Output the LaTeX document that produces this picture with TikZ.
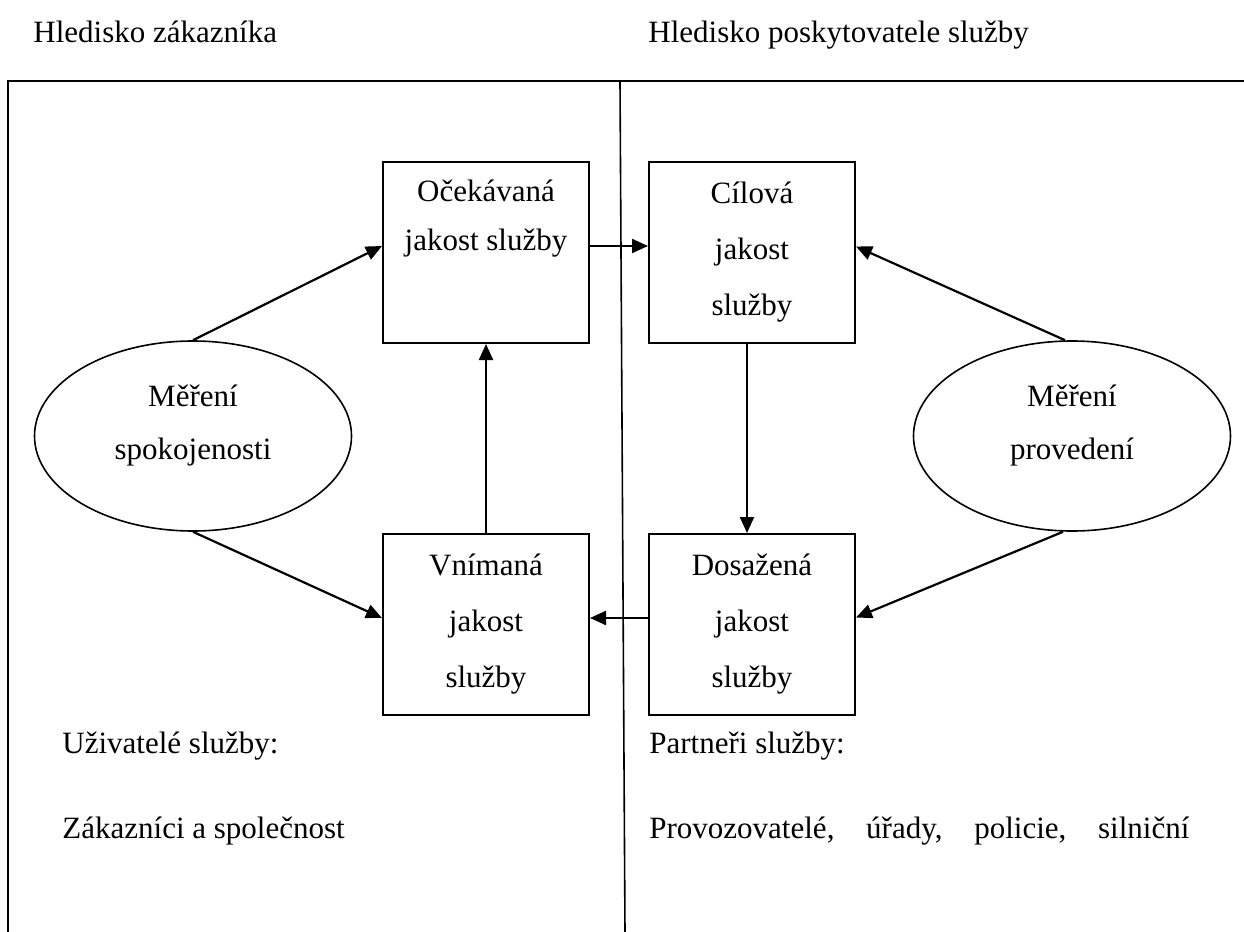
\documentclass[tikz,border=0pt]{standalone}
\usepackage{fontspec}
\setmainfont{Liberation Serif}
\usepackage{tikz}
\usetikzlibrary{arrows.meta,shapes.geometric}

\tikzset{
  kvalbox/.style={draw=black, line width=1pt, inner sep=0pt,
    minimum width=103pt, minimum height=90.5pt, align=center,
    font=\fontsize{15.5pt}{28pt}\selectfont},
  mereni/.style={ellipse, draw=black, line width=0.8pt, inner sep=0pt,
    minimum width=158.5pt, minimum height=95pt, align=center,
    text depth=14pt,
    font=\fontsize{15.5pt}{26.5pt}\selectfont},
  popis/.style={inner sep=0pt, anchor=base west,
    font=\fontsize{15.5pt}{19pt}\selectfont},
  sipka/.style={-{Triangle[length=8pt,width=7pt]}, line width=1.1pt},
}

\begin{document}
\begin{tikzpicture}[x=0.5pt, y=-0.5pt]
                \useasboundingbox (0,0) rectangle (1244,932);
                % frame and divider
                \draw [black, line width=1pt] (8,932) -- (8,81) -- (1244,81);
                \draw [black, line width=0.8pt] (620,81) -- (625,932);
                % headings
                \node [popis] (hzak) at (33,42) {Hledisko zákazníka};
                \node [popis] (hposk) at (648,42) {Hledisko poskytovatele služby};
                % quality boxes
                \node [kvalbox, text depth=37pt] (ocek) at (486,252.5) {Očekávaná\\[-3.5pt]jakost služby};
                \node [kvalbox] (cil) at (752,252.5) {Cílová\\jakost\\služby};
                \node [kvalbox] (vnim) at (486,624.5) {Vnímaná\\jakost\\služby};
                \node [kvalbox] (dos) at (752,624.5) {Dosažená\\jakost\\služby};
                % measurements
                \node [mereni] (spok) at (193,436) {Měření\\spokojenosti};
                \node [mereni] (prov) at (1072,436) {Měření\\provedení};
                % arrows
                \draw [sipka] (spok.north) -- ([yshift=3.25pt]ocek.west);
                \draw [sipka] (spok.south) -- ([yshift=3.25pt]vnim.west);
                \draw [sipka] (vnim.north) -- (ocek.south);
                \draw [sipka] ([yshift=3.25pt]ocek.east) -- ([yshift=3.25pt]cil.west);
                \draw [sipka] ([xshift=-2.5pt]cil.south) -- ([xshift=-2.5pt]dos.north);
                \draw [sipka] ([yshift=3.25pt]dos.west) -- ([yshift=3.25pt]vnim.east);
                \draw [sipka] ([xshift=-3.5pt]prov.north) -- ([yshift=3pt]cil.east);
                \draw [sipka] ([xshift=-4.5pt]prov.south) -- ([yshift=3.5pt]dos.east);
                % bottom texts
                \node [popis] (uziv) at (62,753) {Uživatelé služby:};
                \node [popis] (zakaz) at (62,838) {Zákazníci a společnost};
                \node [popis] (partn) at (649,753) {Partneři služby:};
                \node [popis, text width=270pt, align=left] (provoz) at (649,838)
                  {Provozovatelé,\hfill úřady,\hfill policie,\hfill silniční};
\end{tikzpicture}
\end{document}
